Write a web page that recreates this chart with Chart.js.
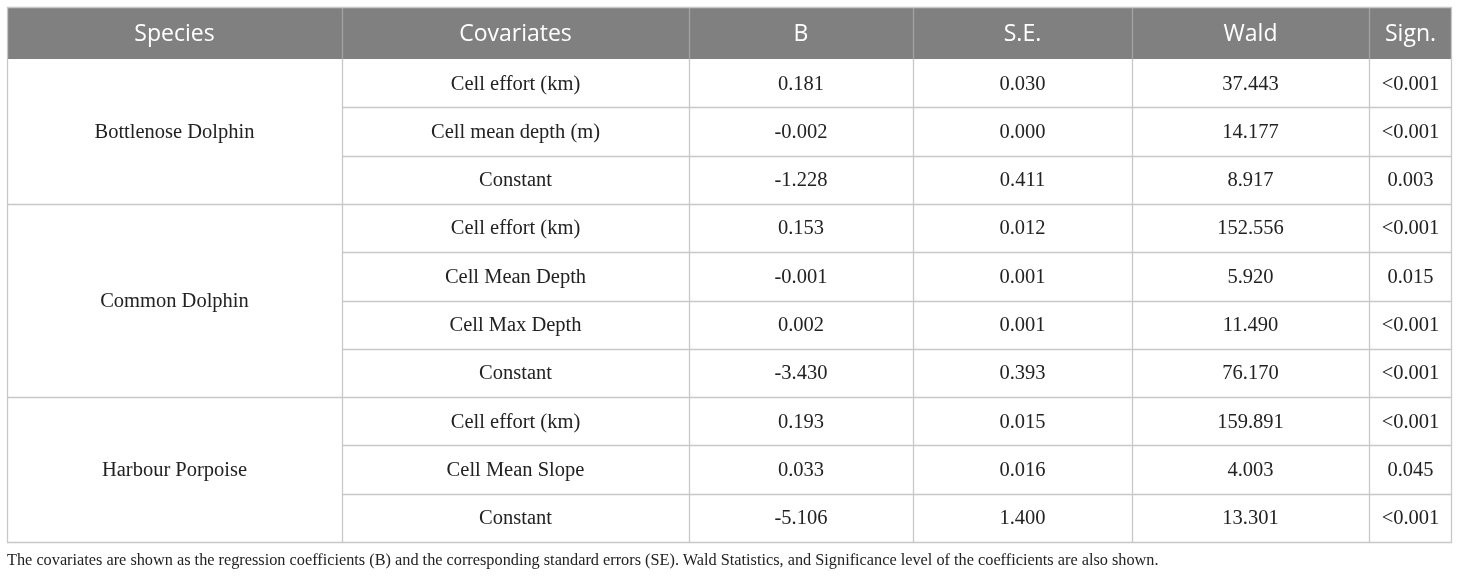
<!DOCTYPE html>
<html>
<head>
<meta charset="utf-8">
<script src="https://cdn.jsdelivr.net/npm/chart.js@4/dist/chart.umd.min.js"></script>
<style>
  body { margin: 0; background: #fff; }
  #wrap { position: relative; width: 1460px; height: 579px; }
  #caption {
    position: absolute; left: 7px; top: 550px;
    font-family: "Liberation Serif", serif; font-size: 16.3px; color: #222;
    white-space: nowrap;
  }
</style>
</head>
<body>
<div id="wrap">
  <canvas id="myChart" width="1460" height="579"></canvas>
  <div id="caption">The covariates are shown as the regression coefficients (B) and the corresponding standard errors (SE). Wald Statistics, and Significance level of the coefficients are also shown.</div>
</div>
<script>
// table data
const columns = ['Species', 'Covariates', 'B', 'S.E.', 'Wald', 'Sign.'];
const species = ['Bottlenose Dolphin', 'Common Dolphin', 'Harbour Porpoise'];
const groupSizes = [3, 4, 3];
const covariates = [
  'Cell effort (km)', 'Cell mean depth (m)', 'Constant',
  'Cell effort (km)', 'Cell Mean Depth', 'Cell Max Depth', 'Constant',
  'Cell effort (km)', 'Cell Mean Slope', 'Constant'
];
const bValues = [0.181, -0.002, -1.228, 0.153, -0.001, 0.002, -3.430, 0.193, 0.033, -5.106];
const seValues = [0.030, 0.000, 0.411, 0.012, 0.001, 0.001, 0.393, 0.015, 0.016, 1.400];
const waldValues = [37.443, 14.177, 8.917, 152.556, 5.920, 11.490, 76.170, 159.891, 4.003, 13.301];
const signValues = ['<0.001', '<0.001', '0.003', '<0.001', '0.015', '<0.001', '<0.001', '<0.001', '0.045', '<0.001'];

// layout (relative column widths, header height in row units)
const colWidths = [335, 347, 224, 219, 237, 83];
const headerRows = 1.077;

const colEdges = [0];
colWidths.forEach(w => colEdges.push(colEdges[colEdges.length - 1] + w));
const colCenter = i => (colEdges[i] + colEdges[i + 1]) / 2;
const nRows = covariates.length;

const headerPoints = columns.map((c, i) => ({ x: colCenter(i), y: -headerRows / 2, text: c }));

const speciesPoints = [];
let start = 0;
species.forEach((s, i) => {
  speciesPoints.push({ x: colCenter(0), y: start + groupSizes[i] / 2, text: s });
  start += groupSizes[i];
});

const cellPoints = [];
covariates.forEach((c, r) => {
  const row = [c, bValues[r].toFixed(3), seValues[r].toFixed(3), waldValues[r].toFixed(3), signValues[r]];
  row.forEach((t, k) => cellPoints.push({ x: colCenter(k + 1), y: r + 0.5, text: t }));
});

const groupEnds = [];
groupSizes.reduce((acc, n) => { groupEnds.push(acc + n); return acc + n; }, 0);

const tablePlugin = {
  id: 'tableGrid',
  beforeDatasetsDraw(chart) {
    const { ctx, scales: { x, y } } = chart;
    const L = x.getPixelForValue(0), R = x.getPixelForValue(colEdges[colEdges.length - 1]);
    const T = y.getPixelForValue(-headerRows), H = y.getPixelForValue(0), B = y.getPixelForValue(nRows);
    const px = v => Math.round(v) + 0.5;
    ctx.save();
    ctx.fillStyle = '#808080';
    ctx.fillRect(L, T, R - L, H - T);
    ctx.lineWidth = 1.3;
    // header separators
    ctx.strokeStyle = '#a3a3a3';
    colEdges.slice(1, -1).forEach(e => {
      const xx = px(x.getPixelForValue(e));
      ctx.beginPath(); ctx.moveTo(xx, T); ctx.lineTo(xx, H); ctx.stroke();
    });
    ctx.strokeStyle = '#c8c8c8';
    ctx.beginPath(); ctx.moveTo(L, px(T)); ctx.lineTo(R, px(T)); ctx.stroke();
    ctx.beginPath(); ctx.moveTo(px(L), T); ctx.lineTo(px(L), H); ctx.stroke();
    ctx.beginPath(); ctx.moveTo(px(R) - 1, T); ctx.lineTo(px(R) - 1, H); ctx.stroke();
    // body verticals
    colEdges.forEach((e, i) => {
      let xx = px(x.getPixelForValue(e));
      if (i === colEdges.length - 1) xx -= 1;
      ctx.beginPath(); ctx.moveTo(xx, H); ctx.lineTo(xx, B); ctx.stroke();
    });
    // body horizontals
    for (let r = 1; r <= nRows; r++) {
      const yy = px(y.getPixelForValue(r));
      const full = groupEnds.includes(r);
      const x0 = full ? L : x.getPixelForValue(colEdges[1]);
      ctx.beginPath(); ctx.moveTo(x0, yy); ctx.lineTo(R, yy); ctx.stroke();
    }
    ctx.restore();
  },
  afterDatasetsDraw(chart) {
    const { ctx } = chart;
    ctx.save();
    ctx.textAlign = 'center';
    ctx.textBaseline = 'middle';
    chart.data.datasets.forEach((ds, i) => {
      const meta = chart.getDatasetMeta(i);
      ctx.font = ds.textFont;
      ctx.fillStyle = ds.textColor;
      meta.data.forEach((el, j) => {
        ctx.fillText(ds.data[j].text, el.x, el.y + (ds.textShift || 0));
      });
    });
    ctx.restore();
  }
};

new Chart(document.getElementById('myChart').getContext('2d'), {
  type: 'scatter',
  data: {
    datasets: [
      { data: headerPoints, pointRadius: 0, textFont: '23px "Open Sans"', textColor: '#ffffff', textShift: 1 },
      { data: speciesPoints, pointRadius: 0, textFont: '20.5px "Liberation Serif"', textColor: '#222222', textShift: 1 },
      { data: cellPoints, pointRadius: 0, textFont: '20.5px "Liberation Serif"', textColor: '#222222', textShift: 1 }
    ]
  },
  options: {
    responsive: false,
    animation: false,
    events: [],
    layout: { padding: { left: 7, top: 7, right: 8, bottom: 37 } },
    plugins: { legend: { display: false }, tooltip: { enabled: false } },
    scales: {
      x: { type: 'linear', min: 0, max: colEdges[colEdges.length - 1], display: false },
      y: { type: 'linear', min: -headerRows, max: nRows, reverse: true, display: false }
    }
  },
  plugins: [tablePlugin]
});
</script>
</body>
</html>
